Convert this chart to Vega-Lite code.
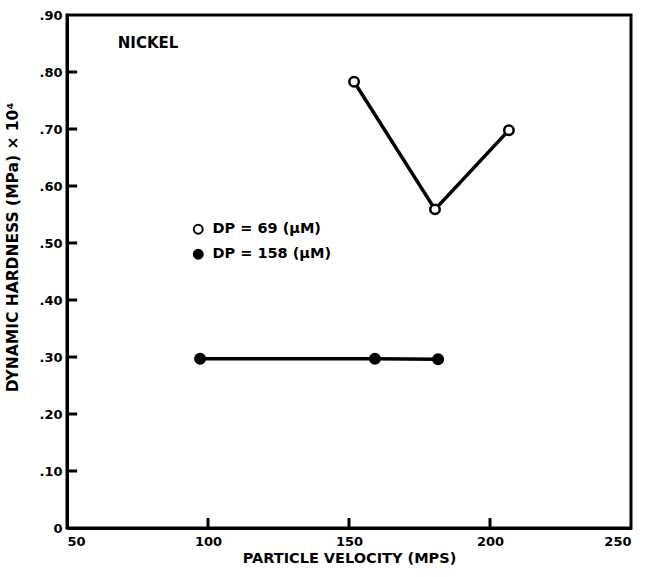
{
  "$schema": "https://vega.github.io/schema/vega-lite/v6.json",
  "autosize": {"type": "none"},
  "width": 564,
  "height": 513,
  "padding": {"left": 67, "top": 15, "right": 14, "bottom": 49},
  "background": "white",
  "config": {
    "view": {"stroke": "black", "strokeWidth": 3},
    "font": "DejaVu Sans",
    "axis": {
      "domainColor": "black", "domainWidth": 3,
      "ticks": false,
      "labelFont": "DejaVu Sans", "labelFontWeight": "bold", "labelFontSize": 13, "labelColor": "black",
      "titleFont": "DejaVu Sans", "titleFontWeight": "bold", "titleFontSize": 14.5, "titleColor": "black",
      "grid": false
    }
  },
  "datasets": {
    "points": [
      {"v": 151.8, "h": 0.783, "dp": "DP = 69 (μM)"},
      {"v": 180.5, "h": 0.559, "dp": "DP = 69 (μM)"},
      {"v": 206.7, "h": 0.698, "dp": "DP = 69 (μM)"},
      {"v": 97.2, "h": 0.297, "dp": "DP = 158 (μM)"},
      {"v": 159.2, "h": 0.297, "dp": "DP = 158 (μM)"},
      {"v": 181.6, "h": 0.296, "dp": "DP = 158 (μM)"}
    ],
    "yticks": [{"yt": 0.1}, {"yt": 0.2}, {"yt": 0.3}, {"yt": 0.4}, {"yt": 0.5}, {"yt": 0.6}, {"yt": 0.7}, {"yt": 0.8}],
    "xticks": [{"xt": 100}, {"xt": 150}, {"xt": 200}]
  },
  "layer": [
    {
      "data": {"name": "points"},
      "mark": {"type": "line", "color": "black", "strokeWidth": 3.5},
      "encoding": {
        "x": {"field": "v", "type": "quantitative", "scale": {"domain": [50, 250], "nice": false, "zero": false},
          "axis": {"values": [50, 100, 150, 200, 250], "title": "PARTICLE VELOCITY (MPS)", "labelPadding": 7, "titlePadding": 3}},
        "y": {"field": "h", "type": "quantitative", "scale": {"domain": [0, 0.9], "nice": false, "zero": false},
          "axis": {"values": [0, 0.1, 0.2, 0.3, 0.4, 0.5, 0.6, 0.7, 0.8, 0.9],
            "labelExpr": "datum.value == 0 ? '0' : replace(format(datum.value, '.2f'), '0.', '.')",
            "title": "DYNAMIC HARDNESS (MPa) × 10⁴", "titleFontSize": 15.5, "labelPadding": 5,
            "titleX": -47, "titleY": 232}},
        "detail": {"field": "dp"}
      }
    },
    {
      "data": {"name": "yticks"},
      "mark": {"type": "rule", "color": "black", "strokeWidth": 3},
      "encoding": {
        "y": {"field": "yt", "type": "quantitative", "scale": {"domain": [0, 0.9], "nice": false, "zero": false}},
        "x": {"datum": 50, "type": "quantitative", "scale": {"domain": [50, 250], "nice": false, "zero": false}},
        "x2": {"datum": 53.6}
      }
    },
    {
      "data": {"name": "xticks"},
      "mark": {"type": "rule", "color": "black", "strokeWidth": 3},
      "encoding": {
        "x": {"field": "xt", "type": "quantitative", "scale": {"domain": [50, 250], "nice": false, "zero": false}},
        "y": {"datum": 0, "type": "quantitative", "scale": {"domain": [0, 0.9], "nice": false, "zero": false}},
        "y2": {"datum": 0.0175}
      }
    },
    {
      "data": {"name": "points"},
      "mark": {"type": "point", "shape": "circle", "filled": true, "stroke": "black", "strokeWidth": 2.5, "size": 90, "opacity": 1},
      "encoding": {
        "x": {"field": "v", "type": "quantitative", "scale": {"domain": [50, 250], "nice": false, "zero": false}},
        "y": {"field": "h", "type": "quantitative", "scale": {"domain": [0, 0.9], "nice": false, "zero": false}},
        "fill": {"field": "dp", "type": "nominal",
          "scale": {"domain": ["DP = 69 (μM)", "DP = 158 (μM)"], "range": ["white", "black"]},
          "legend": {"title": null, "orient": "none", "legendX": 124, "legendY": 207,
            "symbolStrokeColor": "black", "symbolStrokeWidth": 2, "symbolSize": 80, "symbolType": "circle",
            "labelFont": "DejaVu Sans", "labelFontWeight": "bold", "labelFontSize": 14.5, "labelColor": "black",
            "rowPadding": 7, "labelOffset": 7}}
      }
    },
    {
      "data": {"values": [{}]},
      "mark": {"type": "text", "text": "NICKEL", "font": "DejaVu Sans", "fontWeight": "bold", "fontSize": 15, "align": "left", "baseline": "middle", "color": "black"},
      "encoding": {
        "x": {"datum": 68, "type": "quantitative", "scale": {"domain": [50, 250], "nice": false, "zero": false}},
        "y": {"datum": 0.851, "type": "quantitative", "scale": {"domain": [0, 0.9], "nice": false, "zero": false}}
      }
    }
  ]
}
